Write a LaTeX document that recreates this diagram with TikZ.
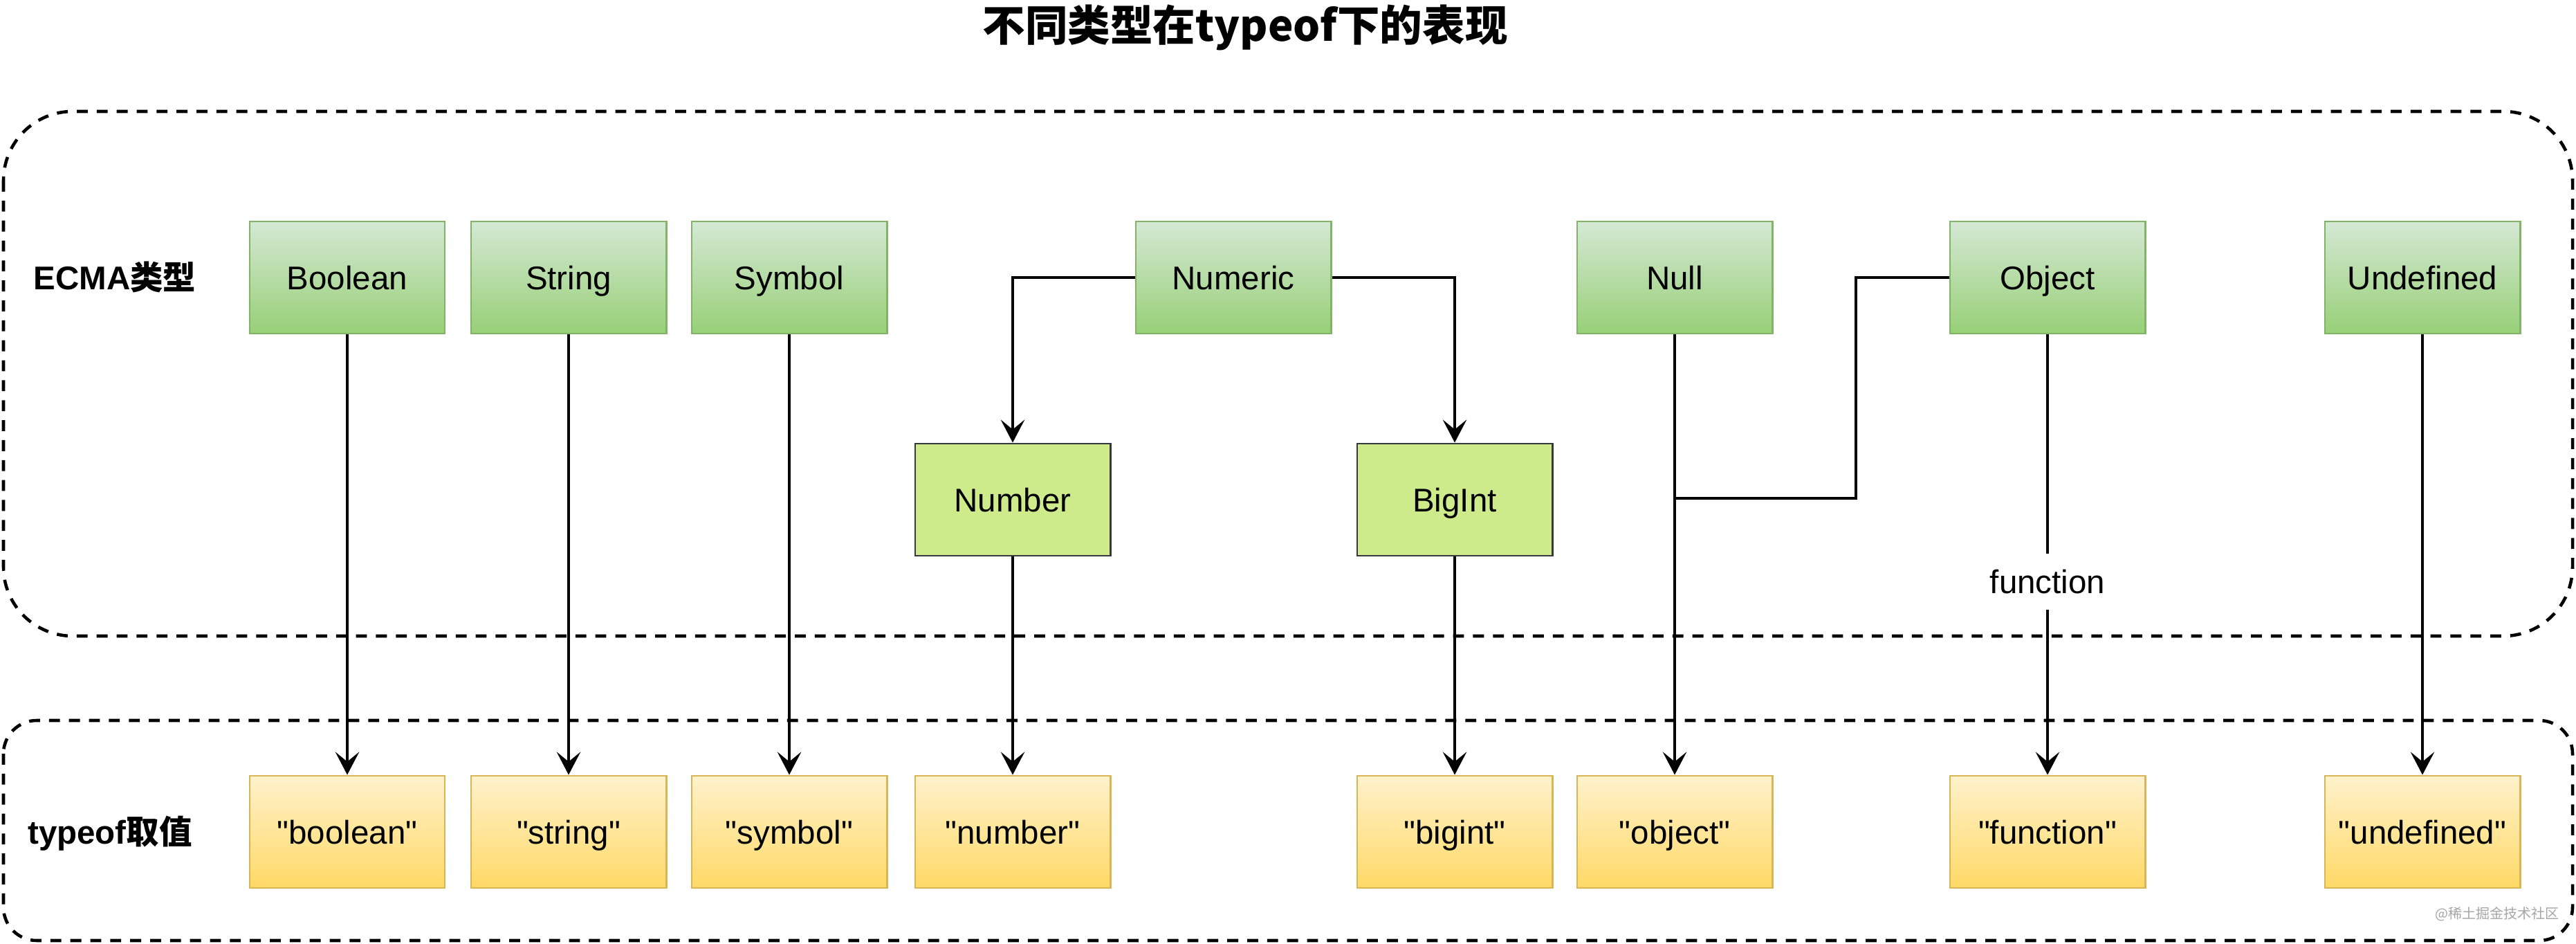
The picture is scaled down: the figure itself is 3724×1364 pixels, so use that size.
\documentclass[tikz,border=0pt]{standalone}
\usepackage{fontspec}
\setmainfont{Liberation Sans}
\newfontfamily\cjk{Noto Sans CJK SC}
\usetikzlibrary{arrows.meta}
\definecolor{gtop}{HTML}{D5E8D4}
\definecolor{gbot}{HTML}{97D077}
\definecolor{gline}{HTML}{82B366}
\definecolor{lgfill}{HTML}{CDEB8B}
\definecolor{lgline}{HTML}{36393D}
\definecolor{ytop}{HTML}{FFF2CC}
\definecolor{ybot}{HTML}{FFD966}
\definecolor{yline}{HTML}{D6B656}
\tikzset{
  txt/.style={font=\fontsize{13.5}{16}\selectfont, text height=9.7pt, text depth=0pt},
  box/.style={rectangle, txt, minimum width=2.82cm, minimum height=1.62cm, inner sep=0pt,
    line width=0.8pt},
  gbox/.style={box, draw=gline, top color=gtop, bottom color=gbot},
  lgbox/.style={box, draw=lgline, fill=lgfill},
  ybox/.style={box, draw=yline, top color=ytop, bottom color=ybot},
  arr/.style={line width=1.1pt, -{Stealth[length=9.4pt,width=9.8pt,inset=4pt]}},
  plain/.style={line width=1.1pt},
  group/.style={draw, line width=1.3pt, dash pattern=on 4.5pt off 3.7pt},
  rowlabel/.style={txt, font=\fontsize{13.5}{16}\selectfont\bfseries}
}
\newcommand\q{\textquotedbl}
\begin{document}
\begin{tikzpicture}[x=0.01cm,y=-0.01cm]
\useasboundingbox (0,0) rectangle (3724,1364);
% title
\node (title) at (1800,40) {\cjk\bfseries\fontsize{17.5}{21}\selectfont 不同类型在typeof下的表现};
% groups
\draw[group, rounded corners=1cm] (5,161) rectangle (3719,919);
\draw[group, rounded corners=0.48cm] (5,1041) rectangle (3719,1359);
% row labels
\node[rowlabel] (l1) at (166,401) {ECMA{\cjk 类型}};
\node[rowlabel] (l2) at (159,1202) {typeof{\cjk 取值}};
% ECMA types
\node[gbox] (boolean) at (502,401) {Boolean};
\node[gbox] (string) at (822,401) {String};
\node[gbox] (symbol) at (1141,401) {Symbol};
\node[gbox] (numeric) at (1783,401) {Numeric};
\node[gbox] (null) at (2421,401) {Null};
\node[gbox] (object) at (2960,401) {Object};
\node[gbox] (undef) at (3502,401) {Undefined};
\node[lgbox] (number) at (1464,722) {Number};
\node[lgbox] (bigint) at (2103,722) {BigInt};
% typeof values
\node[ybox] (tboolean) at (502,1202) {\q boolean\q};
\node[ybox] (tstring) at (822,1202) {\q string\q};
\node[ybox] (tsymbol) at (1141,1202) {\q symbol\q};
\node[ybox] (tnumber) at (1464,1202) {\q number\q};
\node[ybox] (tbigint) at (2103,1202) {\q bigint\q};
\node[ybox] (tobject) at (2421,1202) {\q object\q};
\node[ybox] (tfunction) at (2960,1202) {\q function\q};
\node[ybox] (tundef) at (3502,1202) {\q undefined\q};
% connectors
\draw[arr] (boolean) -- (tboolean);
\draw[arr] (string) -- (tstring);
\draw[arr] (symbol) -- (tsymbol);
\draw[arr] (numeric.west) -| (number.north);
\draw[arr] (numeric.east) -| (bigint.north);
\draw[arr] (number) -- (tnumber);
\draw[arr] (bigint) -- (tbigint);
\draw[arr] (null) -- (tobject);
\coordinate (bend) at (2683,720);
\draw[plain] (object.west) -| (bend) -- (bend -| null);
\draw[arr] (object) -- node[pos=0.562, txt, fill=white, inner xsep=2pt, inner ysep=0pt, minimum height=0.81cm] (flabel) {function} (tfunction);
\draw[arr] (undef) -- (tundef);
% watermark
\node[text=black!35, font=\fontsize{5.7}{7}\selectfont] (wm) at (3610,1321) {\cjk @稀土掘金技术社区};
\end{tikzpicture}
\end{document}
